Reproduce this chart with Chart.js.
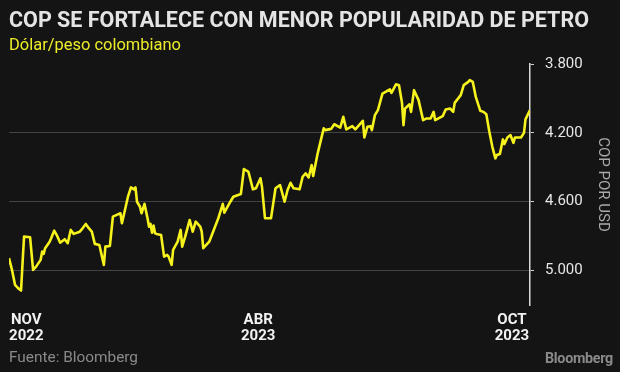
<!DOCTYPE html>
<html>
<head>
<meta charset="utf-8">
<script src="https://cdn.jsdelivr.net/npm/chart.js@4/dist/chart.umd.min.js"></script>
<style>
  html, body { margin:0; padding:0; background:#141414; }
  #wrap { position:relative; width:620px; height:372px; overflow:hidden; background:#141414; font-family: Roboto, "Noto Sans", sans-serif; }
  canvas { position:absolute; left:0; top:0; }
  .txt { position:absolute; white-space:nowrap; line-height:1; transform-origin:0 0; }
  #title { left:9px; top:9px; font-size:22px; font-weight:700; color:#e4e4e4; }
  #subtitle { left:9px; top:37px; font-size:16.5px; color:#ecec2a; }
  #source { left:9px; top:351px; font-size:14.5px; color:#8a8a8a; }
  #logo { left:545px; top:351px; font-size:15px; font-weight:700; color:#8a8a8a; letter-spacing:-0.3px; }
</style>
</head>
<body>
<div id="wrap">
  <canvas id="c" width="620" height="372"></canvas>
  <div class="txt" id="title" data-w="580">COP SE FORTALECE CON MENOR POPULARIDAD DE PETRO</div>
  <div class="txt" id="subtitle" data-w="172">Dólar/peso colombiano</div>
  <div class="txt" id="source" data-w="129">Fuente: Bloomberg</div>
  <div class="txt" id="logo" data-w="68">Bloomberg</div>
</div>
<script>
// Days since 1 Nov 2022
const days = [0,2,4,6,8,9,10,14,16,18,21,22,23,24,27,28,30,32,34,37,39,41,43,47,48,51,53,55,57,60,63,64,67,69,73,74,75,77,79,81,83,84,85,87,88,90,92,93,94,95,96,97,98,101,103,105,106,108,109,112,114,115,117,120,122,124,127,128,129,133,136,139,142,143,147,149,154,156,159,162,164,167,168,170,174,177,180,183,185,187,189,193,195,197,199,201,202,205,209,210,214,216,220,222,224,228,230,235,236,238,240,241,243,245,248,251,253,254,257,259,261,262,263,266,267,269,272,275,277,280,282,283,288,290,293,295,296,300,302,305,306,308,310,313,315,317,319,321,323,324,326,328,329,331,333,335,336,340,342,343,346];
// COP per USD
const cop = [4928,4996,5083,5102,5116,4957,4803,4806,4996,4977,4938,4890,4903,4870,4832,4812,4768,4799,4838,4818,4841,4764,4787,4774,4764,4729,4754,4774,4845,4851,4967,4861,4857,4687,4671,4667,4725,4648,4571,4517,4528,4517,4600,4629,4667,4613,4696,4745,4729,4780,4739,4783,4787,4793,4919,4909,4919,4967,4880,4832,4764,4861,4803,4706,4774,4716,4745,4774,4870,4832,4764,4696,4613,4664,4600,4571,4555,4410,4426,4528,4522,4464,4513,4696,4696,4522,4503,4600,4532,4490,4522,4528,4455,4435,4459,4387,4451,4319,4174,4184,4177,4150,4169,4107,4180,4161,4180,4130,4227,4165,4161,4184,4097,4068,3972,3957,3948,3968,3918,3923,4026,4155,4059,4034,4078,3952,4010,4126,4117,4117,4078,4126,4103,4064,4059,4078,4026,3981,3923,3904,3894,3904,3991,4072,4078,4092,4194,4281,4348,4329,4323,4238,4265,4227,4213,4258,4227,4227,4200,4122,4068];
const xTickDays = [11.5, 165.5, 334];
const xTickLabels = [['NOV','2022'],['ABR','2023'],['OCT','2023']];
const yTickValues = [3800, 4200, 4600, 5000];
const yAxisTitle = 'COP POR USD';

function fmt(v){ return String(v).replace(/\B(?=(\d{3})+(?!\d))/g, '.'); }

new Chart(document.getElementById('c'), {
  type: 'line',
  data: {
    datasets: [{
      data: days.map((d,i)=>({x:d, y:cop[i]})),
      borderColor: '#f6f21c',
      borderWidth: 2.6,
      pointRadius: 0,
      tension: 0,
      borderJoinStyle: 'round',
      fill: false
    }]
  },
  options: {
    responsive: false,
    animation: false,
    devicePixelRatio: 1,
    layout: { padding: { top: 64, left: 9, right: 0, bottom: 0 } },
    plugins: { legend: { display:false }, tooltip: { enabled:false }, title: { display:false } },
    scales: {
      x: {
        type: 'linear',
        min: 0, max: 346,
        grid: { display:false, drawTicks:false },
        border: { display:false },
        afterBuildTicks: s => { s.ticks = xTickDays.map(v=>({value:v})); },
        afterFit: s => { s.height = 67; },
        ticks: {
          autoSkip:false, maxRotation:0, padding:7,
          color:'#f2f2f2',
          font: { family:'Roboto', size:15, weight:'bold', lineHeight:1.08 },
          callback: (v, i) => xTickLabels[i]
        }
      },
      y: {
        position: 'right',
        reverse: true,
        min: 3800, max: 5200,
        afterBuildTicks: s => { s.ticks = yTickValues.map(v=>({value:v})); },
        afterFit: s => { s.width = 90; },
        grid: {
          color: c => (c.tick && c.tick.value === 3800) ? 'rgba(0,0,0,0)' : '#434343',
          tickColor: '#d0d0d0',
          tickLength: 4,
          lineWidth: 1
        },
        border: { display:true, color:'#d8d8d8', width:1.5 },
        ticks: {
          padding: 11,
          color: '#e6e6e6',
          font: { family:'Roboto', size:15 },
          callback: v => fmt(v)
        },
        title: {
          display: true,
          text: yAxisTitle,
          color: '#a9a9a9',
          font: { family:'Roboto', size:15 },
          padding: { top: 8, bottom: 0 }
        }
      }
    }
  }
});

document.querySelectorAll('.txt').forEach(el => {
  const target = parseFloat(el.dataset.w);
  const w = el.getBoundingClientRect().width;
  if (w > 0) el.style.transform = 'scaleX(' + (target / w) + ')';
});
</script>
</body>
</html>
